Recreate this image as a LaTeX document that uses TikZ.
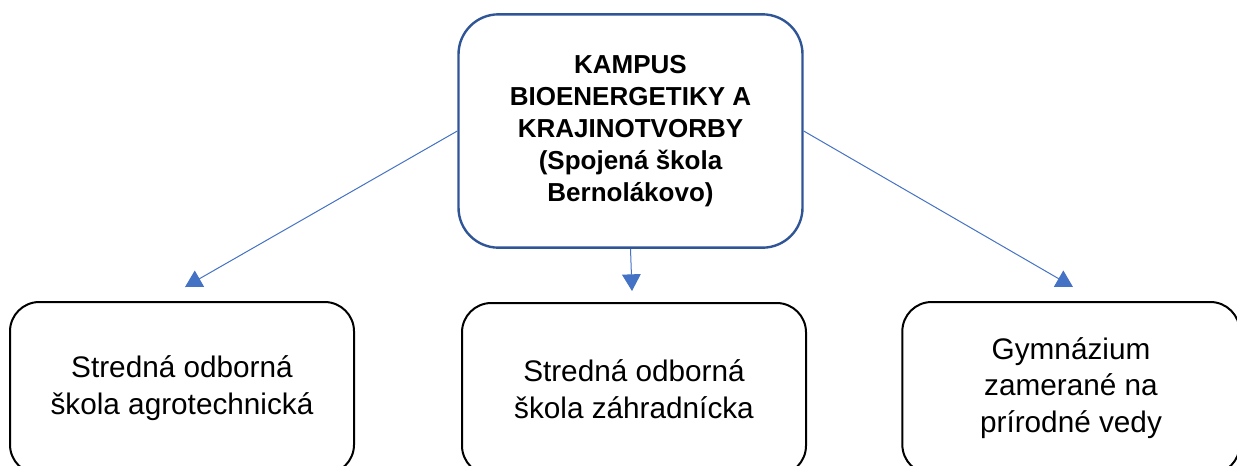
\documentclass[tikz,border=0pt]{standalone}
\usepackage{fontspec}
\setmainfont{Liberation Sans}
\usetikzlibrary{arrows.meta}
\definecolor{campusblue}{HTML}{2F5597}
\definecolor{linkblue}{HTML}{4472C4}
\begin{document}
\begin{tikzpicture}[x=0.75pt,y=-0.75pt]

      \clip (0,0) rectangle (1237,465);

      \begin{scope}[every node/.style={draw, align=center, inner sep=0pt}]
        \node[campusblue, line width=1.8pt, rounded corners=30pt,
              minimum width=258pt, minimum height=175pt,
              font=\fontsize{19.5}{24}\selectfont\bfseries, text=black]
          (campus) at (630.5,131) {KAMPUS\\BIOENERGETIKY A\\KRAJINOTVORBY\\(Spojená škola\\Bernolákovo)};
        \begin{scope}[every node/.append style={line width=1.5pt, rounded corners=22pt,
              minimum height=129pt, font=\fontsize{22.3}{27.5}\selectfont}]
          \node[minimum width=258pt] (agro)  at (182,388) {Stredná odborná\\škola agrotechnická};
          \node[minimum width=258pt] (zahr)  at (634,389) {Stredná odborná\\škola záhradnícka};
          \node[minimum width=253pt] (gymn)  at (1071,388) {Gymnázium\\zamerané na\\prírodné vedy};
        \end{scope}
      \end{scope}

      \coordinate (agrotip) at (185,287);
      \coordinate (zahrtip) at (632,291);
      \coordinate (gymntip) at (1073,287);

      \begin{scope}[every edge/.style={draw, linkblue, line width=0.75pt,
                    -{Triangle[width=14pt,length=12.5pt]}}]
        \path (campus.west)  edge (agrotip);
        \path (campus.south) edge (zahrtip);
        \path (campus.east)  edge (gymntip);
      \end{scope}

    \end{tikzpicture}
\end{document}
